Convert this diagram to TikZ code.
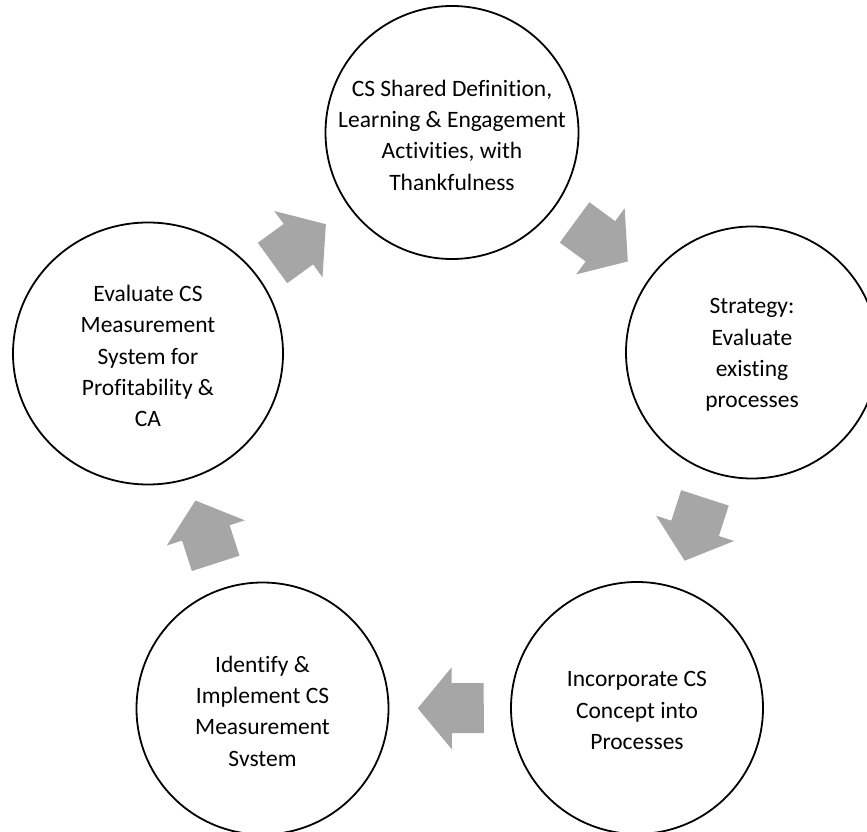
\documentclass[tikz,border=0pt]{standalone}
\usepackage{fontspec}
\setmainfont{Carlito}[Ligatures={NoCommon,NoContextual}]
\usetikzlibrary{calc,shapes.geometric}
\definecolor{arrowgray}{RGB}{166,166,166}
\tikzset{
  ring/.style={circle, draw=black, line width=1.8pt, minimum size=252pt, inner sep=0pt},
  ringtext/.style={align=center, font=\fontsize{23.5}{31.3}\selectfont, inner sep=0pt, text=black, yshift=-2.5pt},
  arrowfill/.style={fill=arrowgray, draw=none}
}
\newcommand\cyclearrow[2]{%
  \pgfmathanglebetweenpoints{\pgfpointanchor{#1}{center}}{\pgfpointanchor{#2}{center}}%
  \let\arrang\pgfmathresult
  \fill[arrowfill, shift={($(#1)!0.5!(#2)$)}, rotate=\arrang]
    (-34,-25) -- (-2,-25) -- (-2,-41) -- (32,0) -- (-2,41) -- (-2,25) -- (-34,25) -- cycle;%
}
\begin{document}
\begin{tikzpicture}[x=1pt,y=1pt]
\useasboundingbox (0,0) rectangle (867,831);
% circles
\node[ring, minimum size=253pt] (n1) at (452,698.5) {};
\node[ring] (n2) at (752,478.5) {};
\node[ring] (n3) at (637,123) {};
\node[ring] (n4) at (262.5,122.5) {};
\node[ring, ellipse, minimum width=270pt, minimum height=262pt] (n5) at (148,477.5) {};
% texts
\node[ringtext] (t1) at (n1) {CS Shared Definition,\\Learning \& Engagement\\Activities, with\\Thankfulness};
\node[ringtext] (t2) at (n2) {Strategy:\\Evaluate\\existing\\processes};
\node[ringtext] (t3) at (n3) {Incorporate CS\\Concept into\\Processes};
\node[ringtext] (t4) at (n4) {Identify \&\\Implement CS\\Measurement\\Svstem};
\node[ringtext] (t5) at (n5) {Evaluate CS\\Measurement\\System for\\Profitability \&\\CA};
% arrows
\cyclearrow{n1}{n2}
\cyclearrow{n2}{n3}
\cyclearrow{n3}{n4}
\cyclearrow{n4}{n5}
\cyclearrow{n5}{n1}
\end{tikzpicture}
\end{document}
